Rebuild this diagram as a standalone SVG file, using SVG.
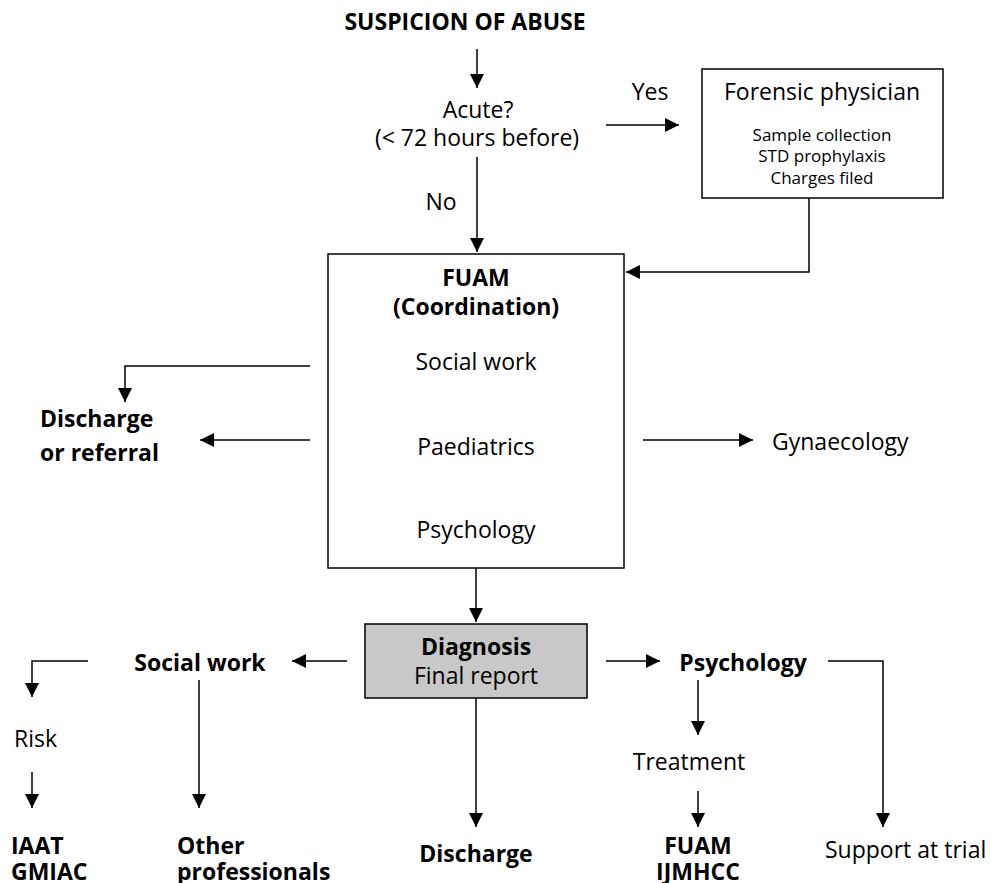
<svg xmlns="http://www.w3.org/2000/svg" width="991" height="883" viewBox="0 0 991 883">
<style>
text{font-family:"Open Sans","Liberation Sans",sans-serif;fill:#000;}
.t{font-size:23px;}
.b{font-size:23px;font-weight:bold;}
.s{font-size:17px;}
.m{text-anchor:middle;}
.box{fill:#fff;stroke:#000;stroke-width:1.5;}
.grey{fill:#c8c8c8;stroke:#000;stroke-width:1.5;}
.c{fill:none;stroke:#000;stroke-width:1.5;marker-end:url(#ah);}
</style>
<defs>
<marker id="ah" markerUnits="userSpaceOnUse" markerWidth="14" markerHeight="14" viewBox="0 0 14 14" refX="14" refY="7" orient="auto">
<path d="M0,0 L14,7 L0,14 Z" fill="#000"/>
</marker>
</defs>
<g id="connectors">
<path class="c" d="M477,49 V88"/>
<path class="c" d="M606,125 H679"/>
<path class="c" d="M477,157 V252"/>
<path class="c" d="M809,198 V272 H626"/>
<path class="c" d="M476,384 V420"/>
<path class="c" d="M476,477 V512"/>
<path class="c" d="M310,366 H125 V402"/>
<path class="c" d="M310,440 H200"/>
<path class="c" d="M643,440 H753"/>
<path class="c" d="M476,568 V622"/>
<path class="c" d="M347,661 H292"/>
<path class="c" d="M88,661 H32 V697"/>
<path class="c" d="M32,772 V808"/>
<path class="c" d="M199,680 V808"/>
<path class="c" d="M476,698 V827"/>
<path class="c" d="M606,661 H660"/>
<path class="c" d="M698,680 V735"/>
<path class="c" d="M698,791 V827"/>
<path class="c" d="M828,661 H883 V827"/>
</g>
<g id="suspicion"><text class="b m" x="465" y="30">SUSPICION OF ABUSE</text></g>
<g id="acute">
<text class="t m" x="478" y="118">Acute?</text>
<text class="t m" x="477" y="146">(&lt; 72 hours before)</text>
</g>
<g id="yes"><text class="t m" x="650" y="100">Yes</text></g>
<g id="no"><text class="t m" x="441" y="210">No</text></g>
<g id="forensic">
<rect class="box" x="702" y="69" width="241" height="129"/>
<text class="t m" x="822" y="100">Forensic physician</text>
<text class="s m" x="822" y="141">Sample collection</text>
<text class="s m" x="822" y="162">STD prophylaxis</text>
<text class="s m" x="822" y="184">Charges filed</text>
</g>
<g id="fuam">
<rect class="box" x="328" y="254" width="296" height="314"/>
<text class="b m" x="476" y="286">FUAM</text>
<text class="b m" x="476" y="315">(Coordination)</text>
<text class="t m" x="476" y="370">Social work</text>
<text class="t m" x="476" y="455">Paediatrics</text>
<text class="t m" x="476" y="538">Psychology</text>
</g>
<g id="discharge-referral">
<text class="b" x="40" y="427">Discharge</text>
<text class="b" x="40" y="461">or referral</text>
</g>
<g id="gynaecology"><text class="t" x="772" y="450">Gynaecology</text></g>
<g id="diagnosis">
<rect class="grey" x="365" y="624" width="222" height="74"/>
<text class="b m" x="476" y="655">Diagnosis</text>
<text class="t m" x="476" y="684">Final report</text>
</g>
<g id="social-work"><text class="b m" x="200" y="671">Social work</text></g>
<g id="risk"><text class="t" x="14" y="747">Risk</text></g>
<g id="iaat">
<text class="b" x="11" y="854">IAAT</text>
<text class="b" x="11" y="880">GMIAC</text>
</g>
<g id="other">
<text class="b" x="177" y="854">Other</text>
<text class="b" x="177" y="880">professionals</text>
</g>
<g id="discharge"><text class="b m" x="476" y="862">Discharge</text></g>
<g id="psychology"><text class="b m" x="743" y="671">Psychology</text></g>
<g id="treatment"><text class="t m" x="689" y="770">Treatment</text></g>
<g id="fuam2">
<text class="b m" x="698" y="854">FUAM</text>
<text class="b m" x="698" y="880">IJMHCC</text>
</g>
<g id="support"><text class="t" x="825" y="858">Support at trial</text></g>
</svg>
